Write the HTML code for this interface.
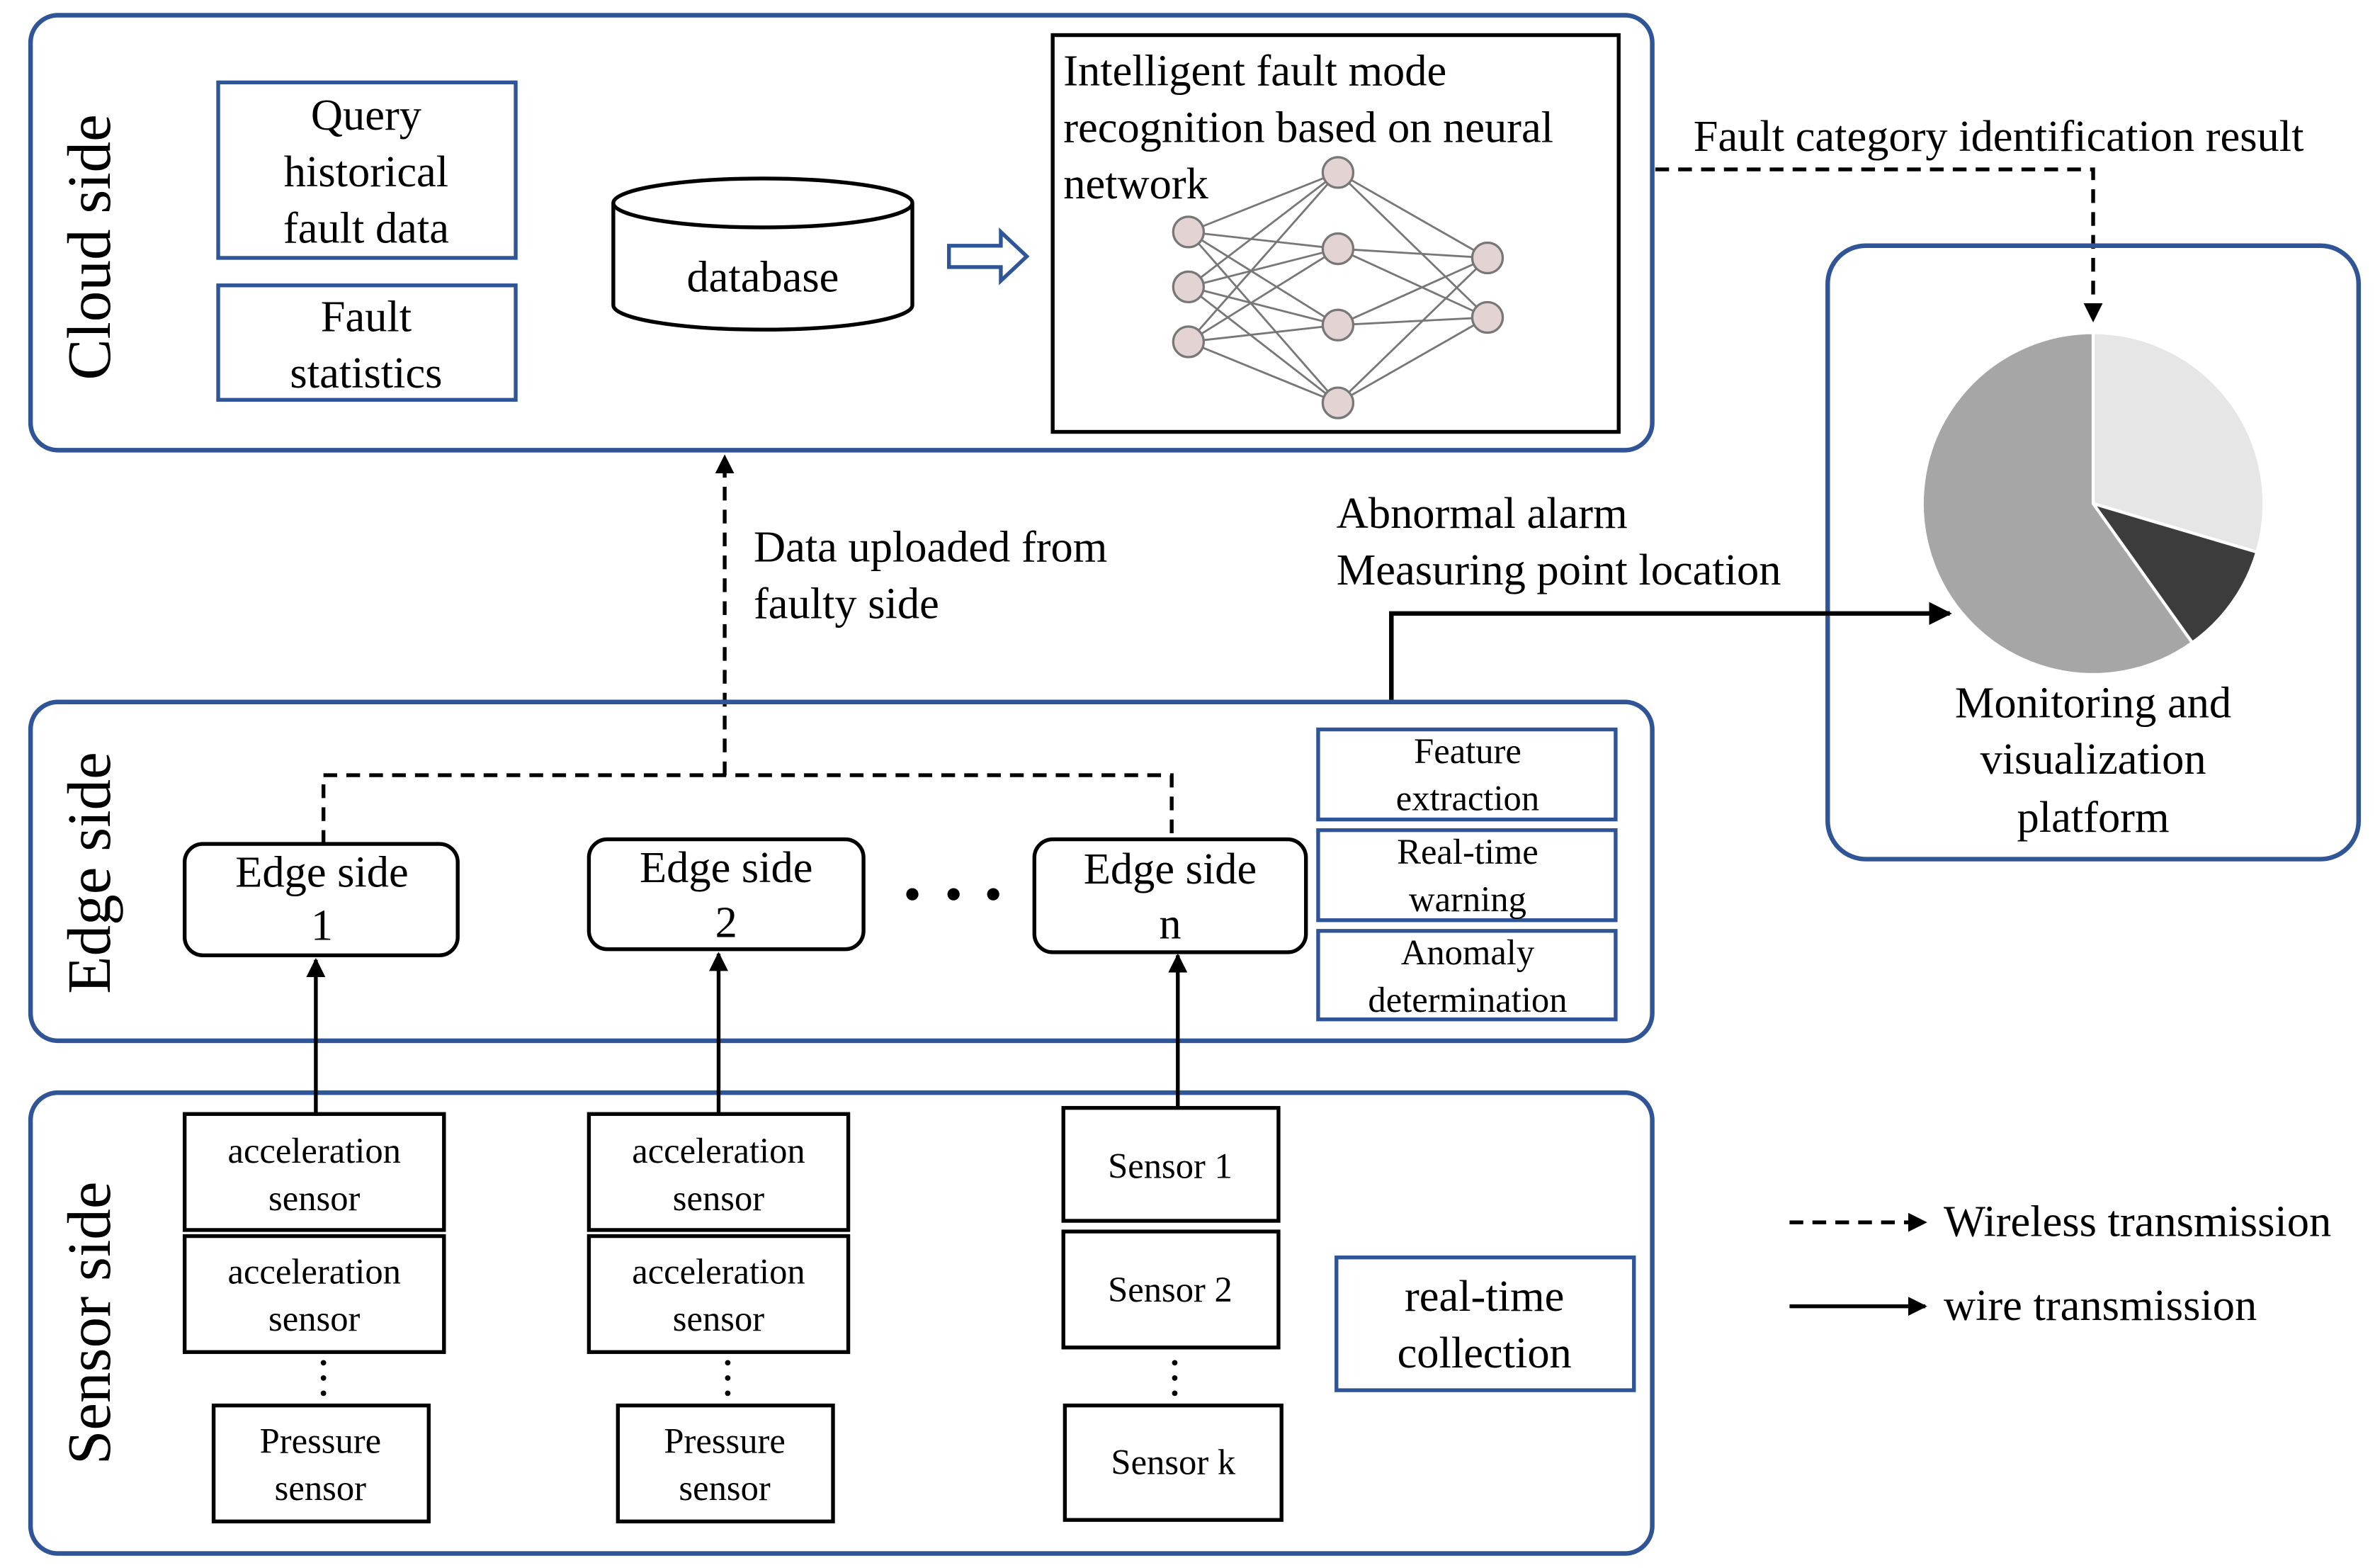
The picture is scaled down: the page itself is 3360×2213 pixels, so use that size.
<!DOCTYPE html>
<html><head><meta charset="utf-8">
<style>
html,body{margin:0;padding:0;background:#fff;}
svg{display:block;}
text{font-family:"Liberation Serif",serif;fill:#000;}
</style></head>
<body>
<svg width="3360" height="2213" viewBox="0 0 1560 1027.5" xmlns="http://www.w3.org/2000/svg">
<defs>
<marker id="ah" viewBox="0 0 10 10" refX="9" refY="5" markerWidth="5" markerHeight="5" orient="auto-start-reverse">
<path d="M0,0 L10,5 L0,10 z" fill="#000"/>
</marker>
</defs>
<rect width="1560" height="1027.5" fill="#fff"/>

<!-- Cloud side -->
<rect x="20" y="10" width="1063" height="285" rx="18" fill="none" stroke="#2f5597" stroke-width="3"/>
<text transform="translate(72,162) rotate(-90)" font-size="40.5" text-anchor="middle">Cloud side</text>
<rect x="143" y="54" width="195" height="115" fill="none" stroke="#2f5597" stroke-width="2.5"/>
<text x="240" y="85" font-size="29" text-anchor="middle">Query</text>
<text x="240" y="122" font-size="29" text-anchor="middle">historical</text>
<text x="240" y="159" font-size="29" text-anchor="middle">fault data</text>
<rect x="143" y="187" width="195" height="75" fill="none" stroke="#2f5597" stroke-width="2.5"/>
<text x="240" y="217" font-size="29" text-anchor="middle">Fault</text>
<text x="240" y="254" font-size="29" text-anchor="middle">statistics</text>
<!-- database -->
<path d="M402,133 L402,200 A98,16 0 0 0 598,200 L598,133" fill="#fff" stroke="#000" stroke-width="2.5"/>
<ellipse cx="500" cy="133" rx="98" ry="16" fill="#fff" stroke="#000" stroke-width="2.5"/>
<text x="500" y="191" font-size="29" text-anchor="middle">database</text>
<!-- hollow arrow -->
<path d="M622,161 L656,161 L656,152 L673,168 L656,184 L656,175 L622,175 Z" fill="#fff" stroke="#2f5597" stroke-width="2.5"/>
<!-- NN box -->
<rect x="690" y="23" width="371" height="260" fill="none" stroke="#000" stroke-width="2.5"/>
<text x="697" y="56" font-size="29">Intelligent fault mode</text>
<text x="697" y="93" font-size="29">recognition based on neural</text>
<text x="697" y="130" font-size="29">network</text>
<g stroke="#777" stroke-width="1.3">
<line x1="779" y1="152" x2="877" y2="113"/><line x1="779" y1="152" x2="877" y2="163"/><line x1="779" y1="152" x2="877" y2="213"/><line x1="779" y1="152" x2="877" y2="264"/>
<line x1="779" y1="188" x2="877" y2="113"/><line x1="779" y1="188" x2="877" y2="163"/><line x1="779" y1="188" x2="877" y2="213"/><line x1="779" y1="188" x2="877" y2="264"/>
<line x1="779" y1="224" x2="877" y2="113"/><line x1="779" y1="224" x2="877" y2="163"/><line x1="779" y1="224" x2="877" y2="213"/><line x1="779" y1="224" x2="877" y2="264"/>
<line x1="877" y1="113" x2="975" y2="169"/><line x1="877" y1="113" x2="975" y2="208"/>
<line x1="877" y1="163" x2="975" y2="169"/><line x1="877" y1="163" x2="975" y2="208"/>
<line x1="877" y1="213" x2="975" y2="169"/><line x1="877" y1="213" x2="975" y2="208"/>
<line x1="877" y1="264" x2="975" y2="169"/><line x1="877" y1="264" x2="975" y2="208"/>
</g>
<g fill="#e3d3d3" stroke="#777" stroke-width="1.5">
<circle cx="779" cy="152" r="10"/><circle cx="779" cy="188" r="10"/><circle cx="779" cy="224" r="10"/>
<circle cx="877" cy="113" r="10"/><circle cx="877" cy="163" r="10"/><circle cx="877" cy="213" r="10"/><circle cx="877" cy="264" r="10"/>
<circle cx="975" cy="169" r="10"/><circle cx="975" cy="208" r="10"/>
</g>

<!-- fault category dashed -->
<text x="1110" y="99" font-size="29">Fault category identification result</text>
<path d="M1085,111 L1372,111 L1372,210" fill="none" stroke="#000" stroke-width="2.5" stroke-dasharray="9,6" marker-end="url(#ah)"/>

<!-- Monitoring -->
<rect x="1198" y="161" width="348" height="402" rx="25" fill="none" stroke="#2f5597" stroke-width="3"/>
<g stroke="#fff" stroke-width="2">
<path d="M1372,330 L1372,218 A112,112 0 0 1 1479.4,361.8 Z" fill="#e6e6e6"/>
<path d="M1372,330 L1479.4,361.8 A112,112 0 0 1 1437,421.2 Z" fill="#3c3c3c"/>
<path d="M1372,330 L1437,421.2 A112,112 0 1 1 1372,218 Z" fill="#a6a6a6"/>
</g>
<text x="1372" y="470" font-size="29" text-anchor="middle">Monitoring and</text>
<text x="1372" y="507" font-size="29" text-anchor="middle">visualization</text>
<text x="1372" y="545" font-size="29" text-anchor="middle">platform</text>

<!-- Data uploaded -->
<line x1="475" y1="508" x2="475" y2="299" stroke="#000" stroke-width="2.5" stroke-dasharray="9,6" marker-end="url(#ah)"/>
<text x="494" y="368" font-size="29">Data uploaded from</text>
<text x="494" y="405" font-size="29">faulty side</text>
<text x="876" y="346" font-size="29">Abnormal alarm</text>
<text x="876" y="383" font-size="29">Measuring point location</text>
<path d="M912,460 L912,402 L1278,402" fill="none" stroke="#000" stroke-width="3" marker-end="url(#ah)"/>

<!-- Edge side -->
<rect x="20" y="460" width="1063" height="222" rx="18" fill="none" stroke="#2f5597" stroke-width="3"/>
<text transform="translate(72,572) rotate(-90)" font-size="40.5" text-anchor="middle">Edge side</text>
<path d="M212,553 L212,508 L768,508 L768,551" fill="none" stroke="#000" stroke-width="2.5" stroke-dasharray="9,6"/>
<rect x="121" y="553" width="179" height="73" rx="12" fill="#fff" stroke="#000" stroke-width="2.5"/>
<text x="211" y="581" font-size="29" text-anchor="middle">Edge side</text>
<text x="211" y="616" font-size="29" text-anchor="middle">1</text>
<rect x="386" y="550" width="180" height="72" rx="12" fill="#fff" stroke="#000" stroke-width="2.5"/>
<text x="476" y="578" font-size="29" text-anchor="middle">Edge side</text>
<text x="476" y="614" font-size="29" text-anchor="middle">2</text>
<rect x="678" y="550" width="178" height="74" rx="12" fill="#fff" stroke="#000" stroke-width="2.5"/>
<text x="767" y="579" font-size="29" text-anchor="middle">Edge side</text>
<text x="767" y="615" font-size="29" text-anchor="middle">n</text>
<circle cx="598" cy="586" r="4"/><circle cx="625" cy="586" r="4"/><circle cx="651" cy="586" r="4"/>
<g fill="none" stroke="#2f5597" stroke-width="2.5">
<rect x="864" y="478" width="195" height="59"/>
<rect x="864" y="544" width="195" height="59"/>
<rect x="864" y="610" width="195" height="58"/>
</g>
<g font-size="23.5" text-anchor="middle">
<text x="962" y="500">Feature</text><text x="962" y="531">extraction</text>
<text x="962" y="566">Real-time</text><text x="962" y="597">warning</text>
<text x="962" y="632">Anomaly</text><text x="962" y="663">determination</text>
</g>

<!-- Sensor side -->
<rect x="20" y="716" width="1063" height="302" rx="18" fill="none" stroke="#2f5597" stroke-width="3"/>
<text transform="translate(72,867) rotate(-90)" font-size="40.5" text-anchor="middle">Sensor side</text>
<g fill="none" stroke="#000" stroke-width="2.5">
<rect x="121" y="730" width="170" height="76"/><rect x="121" y="810" width="170" height="76"/><rect x="140" y="921" width="141" height="76"/>
<rect x="386" y="730" width="170" height="76"/><rect x="386" y="810" width="170" height="76"/><rect x="405" y="921" width="141" height="76"/>
<rect x="697" y="726" width="141" height="74"/><rect x="697" y="807" width="141" height="76"/><rect x="698" y="921" width="142" height="75"/>
</g>
<g font-size="23.5" text-anchor="middle">
<text x="206" y="762">acceleration</text><text x="206" y="793">sensor</text>
<text x="206" y="841">acceleration</text><text x="206" y="872">sensor</text>
<text x="210" y="952">Pressure</text><text x="210" y="983">sensor</text>
<text x="471" y="762">acceleration</text><text x="471" y="793">sensor</text>
<text x="471" y="841">acceleration</text><text x="471" y="872">sensor</text>
<text x="475" y="952">Pressure</text><text x="475" y="983">sensor</text>
<text x="767" y="772">Sensor 1</text><text x="767" y="853">Sensor 2</text><text x="769" y="966">Sensor k</text>
</g>
<g>
<circle cx="212" cy="893" r="1.8"/><circle cx="212" cy="903" r="1.8"/><circle cx="212" cy="913" r="1.8"/>
<circle cx="477" cy="893" r="1.8"/><circle cx="477" cy="903" r="1.8"/><circle cx="477" cy="913" r="1.8"/>
<circle cx="770" cy="893" r="1.8"/><circle cx="770" cy="903" r="1.8"/><circle cx="770" cy="913" r="1.8"/>
</g>
<g stroke="#000" stroke-width="2.5" marker-end="url(#ah)">
<line x1="207" y1="730" x2="207" y2="629"/>
<line x1="471" y1="730" x2="471" y2="625"/>
<line x1="772" y1="726" x2="772" y2="626"/>
</g>
<rect x="876" y="824" width="195" height="87" fill="none" stroke="#2f5597" stroke-width="2.5"/>
<text x="973" y="859" font-size="29" text-anchor="middle">real-time</text>
<text x="973" y="896" font-size="29" text-anchor="middle">collection</text>

<!-- Legend -->
<line x1="1173" y1="801" x2="1262" y2="801" stroke="#000" stroke-width="2.5" stroke-dasharray="9,6" marker-end="url(#ah)"/>
<text x="1274" y="810" font-size="29">Wireless transmission</text>
<line x1="1173" y1="856" x2="1262" y2="856" stroke="#000" stroke-width="2.5" marker-end="url(#ah)"/>
<text x="1274" y="865" font-size="29">wire transmission</text>
</svg>
</body></html>
